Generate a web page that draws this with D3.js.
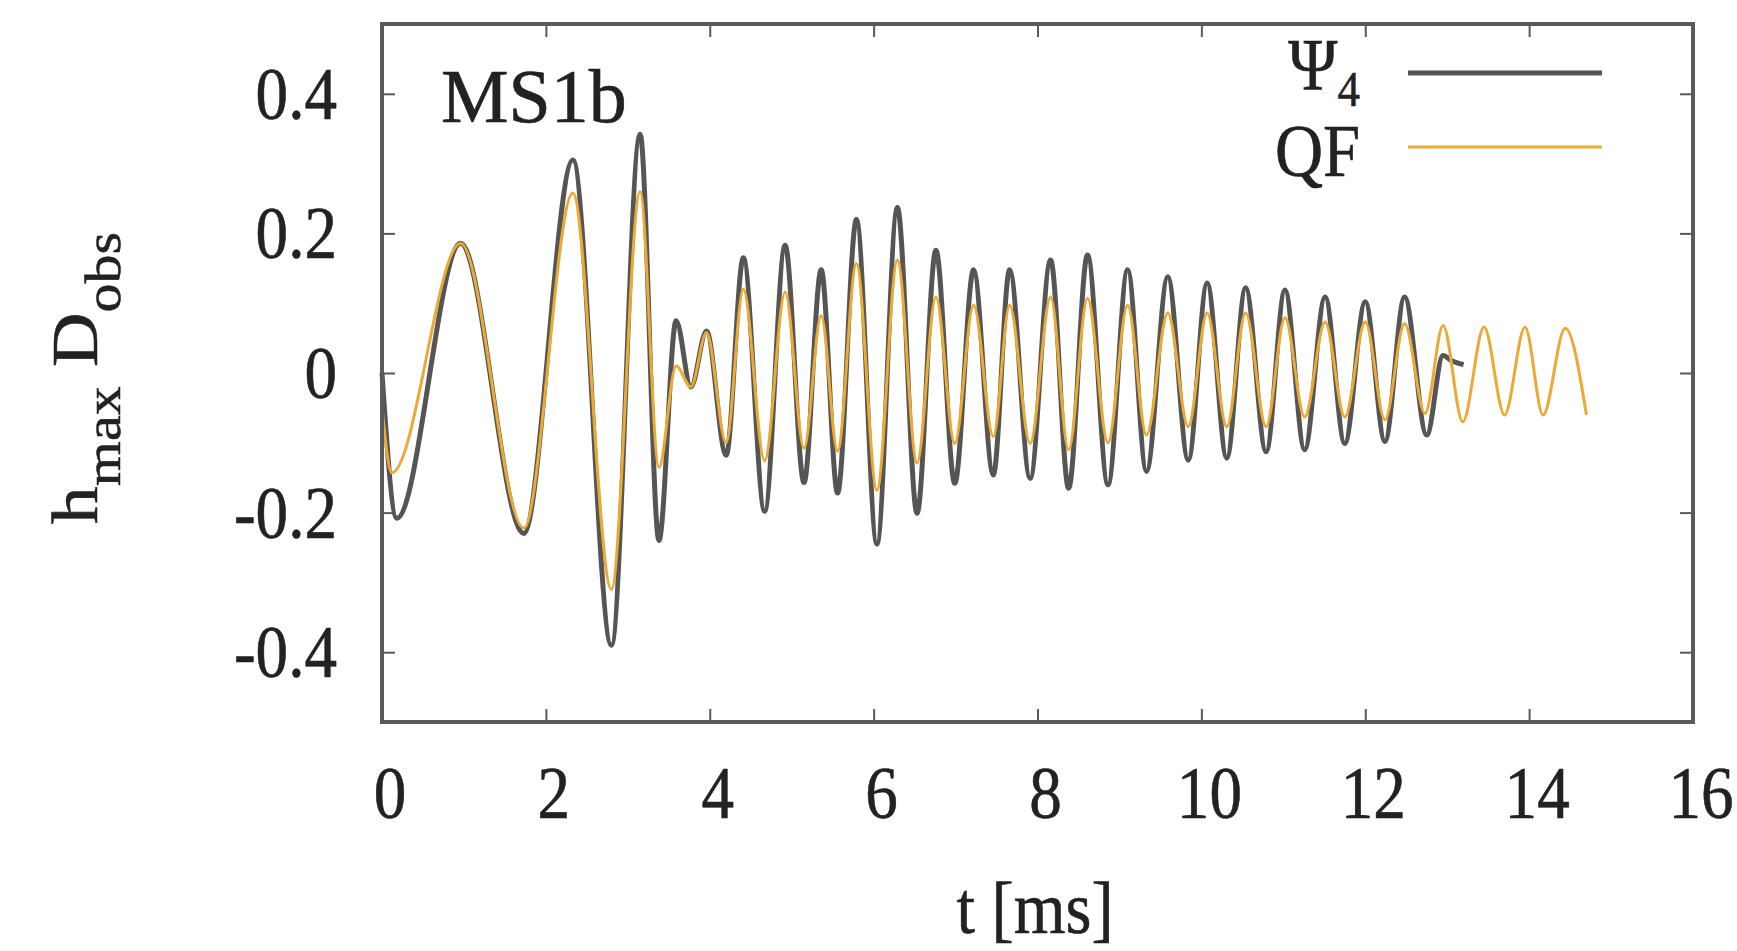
<html>
<head>
<meta charset="utf-8">
<script src="https://d3js.org/d3.v7.min.js"></script>
<style>
  body { margin: 0; background: #fff; }
  text { font-family: "Liberation Serif", "DejaVu Serif", serif; fill: #222; stroke: #222; stroke-width: 0.6px; }
</style>
</head>
<body>
<div id="chart"></div>
<script>
// waveform extrema (t in ms, amplitude)
const psi4T = [0.00, 0.18, 0.96, 1.73, 2.33, 2.80, 3.15, 3.38, 3.59, 3.77, 3.96, 4.20, 4.41, 4.67, 4.92, 5.15, 5.36, 5.56, 5.79, 6.04,
               6.29, 6.53, 6.76, 6.99, 7.22, 7.46, 7.66, 7.91, 8.16, 8.38, 8.61, 8.86, 9.10, 9.33, 9.59, 9.84, 10.07, 10.31, 10.54, 10.79,
               11.02, 11.26, 11.51, 11.75, 12.00, 12.24, 12.48, 12.75, 12.95, 13.05, 13.20];
const psi4V = [0.000, -0.208, 0.186, -0.230, 0.305, -0.390, 0.342, -0.240, 0.075, -0.020, 0.060, -0.118, 0.165, -0.198, 0.183, -0.157, 0.148, -0.172, 0.220, -0.245,
               0.237, -0.201, 0.176, -0.158, 0.148, -0.146, 0.148, -0.151, 0.162, -0.165, 0.169, -0.160, 0.148, -0.141, 0.138, -0.125, 0.129, -0.122, 0.122, -0.113,
               0.119, -0.110, 0.109, -0.101, 0.102, -0.098, 0.109, -0.089, 0.025, 0.018, 0.012];

const qfT = [0.00, 0.12, 0.96, 1.73, 2.33, 2.80, 3.15, 3.38, 3.59, 3.77, 3.96, 4.20, 4.41, 4.67, 4.92, 5.15, 5.36, 5.56, 5.79, 6.04,
             6.29, 6.53, 6.76, 6.99, 7.22, 7.46, 7.66, 7.91, 8.16, 8.38, 8.61, 8.86, 9.10, 9.33, 9.59, 9.84, 10.07, 10.31, 10.54, 10.79,
             11.02, 11.26, 11.51, 11.75, 12.00, 12.24, 12.48, 12.73, 12.95, 13.19, 13.45, 13.70, 13.95, 14.17, 14.44, 14.70];
const qfV = [-0.050, -0.143, 0.186, -0.222, 0.258, -0.310, 0.260, -0.135, 0.010, -0.020, 0.058, -0.100, 0.120, -0.126, 0.116, -0.108, 0.082, -0.112, 0.157, -0.168,
             0.162, -0.129, 0.109, -0.101, 0.097, -0.091, 0.097, -0.101, 0.109, -0.110, 0.107, -0.100, 0.097, -0.089, 0.086, -0.077, 0.086, -0.077, 0.086, -0.077,
             0.079, -0.063, 0.073, -0.063, 0.073, -0.067, 0.071, -0.058, 0.068, -0.070, 0.066, -0.060, 0.066, -0.060, 0.064, -0.060];

const xTicks = [0, 2, 4, 6, 8, 10, 12, 14, 16];
const yTicks = [-0.4, -0.2, 0, 0.2, 0.4];
const seriesNames = ["\u03A8", "QF"];

// size of the page and the frame
const W = 1737, H = 951;
const margin = {top: 24, right: 44, bottom: 229, left: 382};
const width = W - margin.left - margin.right;
const height = H - margin.top - margin.bottom;

const svg = d3.select("#chart").append("svg")
  .attr("width", W)
  .attr("height", H);

const g = svg.append("g")
  .attr("transform", "translate(" + margin.left + "," + margin.top + ")");

const x = d3.scaleLinear().domain([0, 16]).range([0, width]);
const y = d3.scaleLinear().domain([-0.5, 0.5]).range([height, 0]);

const frameColor = "#5a5a5a";
const psiColor = "#555555";
const qfColor = "#eaaa35";
const fs = 74;

// inward ticks on all four sides (gnuplot style)
g.append("g").call(d3.axisBottom(x).tickValues(xTicks).tickSize(-13).tickFormat(""))
  .attr("transform", "translate(0," + height + ")");
g.append("g").call(d3.axisTop(x).tickValues(xTicks).tickSize(-13).tickFormat(""));
g.append("g").call(d3.axisLeft(y).tickValues(yTicks).tickSize(-13).tickFormat(""));
g.append("g").call(d3.axisRight(y).tickValues(yTicks).tickSize(-13).tickFormat(""))
  .attr("transform", "translate(" + width + ",0)");
g.selectAll(".domain").remove();
g.selectAll(".tick line").attr("stroke", frameColor).attr("stroke-width", 2);

// tick labels
g.selectAll(".xlab").data(xTicks).enter().append("text")
  .attr("class", "xlab")
  .attr("transform", function(d) { return "translate(" + (x(d) + 8) + "," + (height + 96) + ") scale(0.88,1)"; })
  .attr("text-anchor", "middle")
  .style("font-size", fs + "px")
  .text(function(d) { return d; });

g.selectAll(".ylab").data(yTicks).enter().append("text")
  .attr("class", "ylab")
  .attr("transform", function(d) { return "translate(-45," + (y(d) + 25) + ") scale(0.88,1)"; })
  .attr("text-anchor", "end")
  .style("font-size", fs + "px")
  .text(function(d) { return d === 0 ? "0" : d.toFixed(1); });

// curves
const line = d3.line()
  .x(function(d) { return x(d[0]); })
  .y(function(d) { return y(d[1]); })
  .curve(d3.curveMonotoneX);

const psi4 = d3.zip(psi4T, psi4V);
const qf = d3.zip(qfT, qfV);

g.append("path")
  .datum(psi4)
  .attr("fill", "none")
  .attr("stroke", psiColor)
  .attr("stroke-width", 5)
  .attr("d", line);

g.append("path")
  .datum(qf)
  .attr("fill", "none")
  .attr("stroke", qfColor)
  .attr("stroke-width", 3)
  .attr("d", line);

// frame
g.append("rect")
  .attr("width", width)
  .attr("height", height)
  .attr("fill", "none")
  .attr("stroke", frameColor)
  .attr("stroke-width", 4);

// panel label
svg.append("text")
  .attr("x", 441)
  .attr("y", 122)
  .style("font-size", "76px")
  .text("MS1b");

// legend
const leg = svg.append("g");
const psiText = leg.append("text")
  .attr("transform", "translate(1360,90) scale(0.9,1)")
  .attr("text-anchor", "end")
  .style("font-size", fs + "px");
psiText.append("tspan").text(seriesNames[0]);
psiText.append("tspan").attr("dy", 16).style("font-size", "50px").text("4");

leg.append("text")
  .attr("transform", "translate(1360,176) scale(0.9,1)")
  .attr("text-anchor", "end")
  .style("font-size", fs + "px")
  .text(seriesNames[1]);

leg.append("line")
  .attr("x1", 1408).attr("x2", 1602).attr("y1", 73).attr("y2", 73)
  .attr("stroke", psiColor).attr("stroke-width", 5);
leg.append("line")
  .attr("x1", 1408).attr("x2", 1602).attr("y1", 147).attr("y2", 147)
  .attr("stroke", qfColor).attr("stroke-width", 3);

// axis titles
svg.append("text")
  .attr("transform", "translate(1035,933) scale(0.9,1)")
  .attr("text-anchor", "middle")
  .style("font-size", fs + "px")
  .text("t [ms]");

const ylab = svg.append("text")
  .attr("transform", "translate(97,378) rotate(-90) scale(1,0.87)")
  .attr("text-anchor", "middle")
  .style("font-size", "76px");
ylab.append("tspan").text("h");
ylab.append("tspan").attr("dy", 26).style("font-size", "58px").text("max");
ylab.append("tspan").attr("dy", -26).text(" D");
ylab.append("tspan").attr("dy", 26).style("font-size", "58px").text("obs");
</script>
</body>
</html>
